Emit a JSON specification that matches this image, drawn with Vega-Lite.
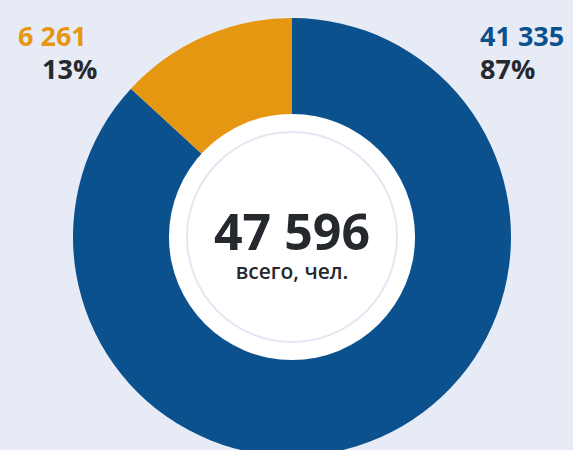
{
  "$schema": "https://vega.github.io/schema/vega-lite/v6.json",
  "width": 584,
  "height": 474,
  "padding": 0,
  "autosize": "none",
  "background": "#E7EBF6",
  "config": {"view": {"stroke": null}, "font": "Open Sans"},
  "datasets": {
    "slices": [
      {"group": "Группа 1", "value": 41335, "label": "41 335", "pct": "87%", "order": 1},
      {"group": "Группа 2", "value": 6261, "label": "6 261", "pct": "13%", "order": 2}
    ],
    "center": [{"total": "47 596", "caption": "всего, чел.", "v": 1}]
  },
  "resolve": {"scale": {"theta": "independent"}},
  "layer": [
    {
      "data": {"name": "slices"},
      "mark": {"type": "arc", "outerRadius": 219, "innerRadius": 0},
      "encoding": {
        "theta": {"field": "value", "type": "quantitative", "stack": true},
        "order": {"field": "order", "type": "quantitative"},
        "color": {
          "field": "group",
          "type": "nominal",
          "scale": {"domain": ["Группа 1", "Группа 2"], "range": ["#0B518D", "#E69712"]},
          "legend": null
        }
      }
    },
    {
      "data": {"name": "center"},
      "mark": {"type": "arc", "outerRadius": 123, "fill": "#FFFFFF"},
      "encoding": {"theta": {"field": "v", "type": "quantitative", "stack": true}}
    },
    {
      "data": {"name": "center"},
      "mark": {"type": "arc", "outerRadius": 105, "fill": null, "fillOpacity": 0, "stroke": "#E3E7F3", "strokeWidth": 2},
      "encoding": {"theta": {"field": "v", "type": "quantitative", "stack": true}}
    },
    {
      "data": {"name": "center"},
      "mark": {"type": "text", "fontSize": 50, "fontWeight": 700, "color": "#25292E", "baseline": "alphabetic", "align": "center", "dy": 13},
      "encoding": {"text": {"field": "total"}}
    },
    {
      "data": {"name": "center"},
      "mark": {"type": "text", "fontSize": 21, "fontWeight": 600, "color": "#25292E", "baseline": "alphabetic", "align": "center", "dy": 42},
      "encoding": {"text": {"field": "caption"}}
    },
    {
      "data": {"name": "slices"},
      "transform": [{"filter": "datum.order == 1"}],
      "layer": [
        {
          "mark": {"type": "text", "fontSize": 27, "fontWeight": 700, "color": "#0B518D", "align": "left", "baseline": "alphabetic"},
          "encoding": {"x": {"value": 480}, "y": {"value": 46}, "text": {"field": "label"}}
        },
        {
          "mark": {"type": "text", "fontSize": 27, "fontWeight": 700, "color": "#25292E", "align": "left", "baseline": "alphabetic"},
          "encoding": {"x": {"value": 480}, "y": {"value": 79}, "text": {"field": "pct"}}
        }
      ]
    },
    {
      "data": {"name": "slices"},
      "transform": [{"filter": "datum.order == 2"}],
      "layer": [
        {
          "mark": {"type": "text", "fontSize": 27, "fontWeight": 700, "color": "#E69712", "align": "left", "baseline": "alphabetic"},
          "encoding": {"x": {"value": 18}, "y": {"value": 46}, "text": {"field": "label"}}
        },
        {
          "mark": {"type": "text", "fontSize": 27, "fontWeight": 700, "color": "#25292E", "align": "left", "baseline": "alphabetic"},
          "encoding": {"x": {"value": 42}, "y": {"value": 79}, "text": {"field": "pct"}}
        }
      ]
    }
  ]
}
